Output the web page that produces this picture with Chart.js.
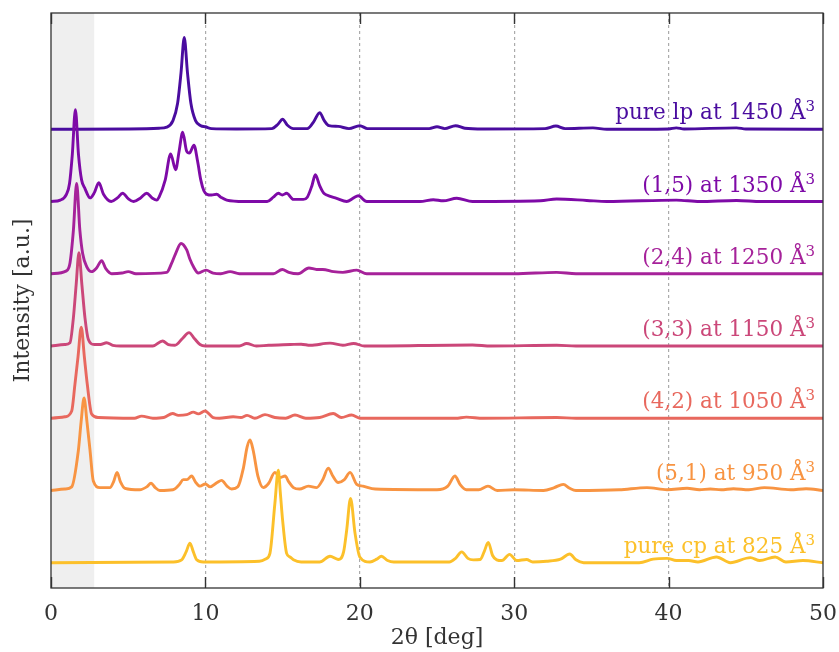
<!DOCTYPE html>
<html>
<head>
<meta charset="utf-8">
<title>XRD patterns</title>
<script src="https://cdn.jsdelivr.net/npm/chart.js@4.4.1/dist/chart.umd.min.js"></script>
<style>
  html, body { margin: 0; padding: 0; background: #fff; }
</style>
</head>
<body>
<canvas id="xrdChart" width="839" height="652"></canvas>
<script>
// --- data: [2theta (deg), intensity above own baseline] ---
const pureLp = [
    [0, 0], [5, 0.005], [7, 0.015], [7.5, 0.03], [7.9, 0.12], [8.2, 0.36], [8.42, 0.78], [8.63, 1.27],
    [8.84, 0.78], [9.06, 0.36], [9.36, 0.12], [9.7, 0.05], [10.0, 0.035], [10.4, 0.01], [12, 0.005],
    [14.3, 0.01], [14.7, 0.07], [15.0, 0.14], [15.3, 0.06], [15.7, 0.01], [16.6, 0.01], [17.0, 0.1],
    [17.4, 0.23], [17.7, 0.12], [18.0, 0.05], [18.6, 0.04], [19.3, 0.01], [20.0, 0.05], [20.5, 0.01],
    [24.5, 0.01], [25.0, 0.035], [25.5, 0.01], [26.2, 0.05], [26.8, 0.015], [28, 0.005], [32.0, 0.01],
    [32.7, 0.045], [33.3, 0.01], [35.1, 0.02], [36, 0], [40, 0.005], [40.5, 0.02], [41, 0.005],
    [44.4, 0.02], [45, 0.005], [50, 0]
];
const mix15 = [
    [0, 0], [0.6, 0.02], [1.0, 0.1], [1.2, 0.25], [1.38, 0.65], [1.58, 1.27], [1.78, 0.65], [1.98, 0.3],
    [2.2, 0.18], [2.53, 0.05], [2.8, 0.12], [3.1, 0.26], [3.4, 0.1], [3.9, 0], [4.3, 0.05], [4.64, 0.115],
    [5.0, 0.04], [5.35, 0], [5.8, 0.05], [6.2, 0.115], [6.55, 0.05], [6.85, 0.02], [7.0, 0.06], [7.4, 0.3],
    [7.75, 0.66], [8.07, 0.44], [8.3, 0.7], [8.53, 0.96], [8.78, 0.7], [8.96, 0.67], [9.26, 0.78],
    [9.5, 0.55], [9.7, 0.3], [9.9, 0.15], [10.1, 0.1], [10.4, 0.09], [10.73, 0.1], [11.0, 0.06],
    [11.38, 0.02], [12.5, 0], [14.0, 0], [14.4, 0.06], [14.72, 0.115], [14.98, 0.09], [15.26, 0.115],
    [15.7, 0.03], [16.34, 0.03], [16.6, 0.06], [16.9, 0.22], [17.12, 0.37], [17.4, 0.22], [17.65, 0.12],
    [17.86, 0.09], [18.5, 0.045], [19.15, 0], [19.6, 0.05], [19.9, 0.08], [20.45, 0], [23.9, 0],
    [24.76, 0.025], [25.4, 0.01], [26.28, 0.045], [27.3, 0], [31.7, 0.01], [32.75, 0.035], [34.7, 0.015],
    [36, 0], [40.5, 0.02], [42, 0], [44.4, 0.015], [46, 0], [50, 0]
];
const mix24 = [
    [0, 0], [1.0, 0.04], [1.23, 0.15], [1.45, 0.6], [1.66, 1.25], [1.87, 0.6], [2.05, 0.28], [2.31, 0.1],
    [2.63, 0.03], [2.95, 0.08], [3.28, 0.18], [3.55, 0.07], [3.93, 0], [4.6, 0.01], [5.0, 0.03], [5.5, 0],
    [7.5, 0.02], [7.8, 0.14], [8.05, 0.27], [8.42, 0.42], [8.79, 0.33], [9.0, 0.2], [9.22, 0.1],
    [9.54, 0.01], [10.04, 0.05], [10.5, 0.01], [11.0, 0], [11.6, 0.03], [12.2, 0], [14.4, 0],
    [14.98, 0.06], [15.4, 0.02], [16.0, 0], [16.7, 0.08], [17.2, 0.06], [17.6, 0.06], [18.3, 0.03],
    [18.9, 0.02], [19.8, 0.05], [20.45, 0], [30, 0], [32.75, 0.02], [34, 0], [50, 0]
];
const mix33 = [
    [0, 0], [0.9, 0.02], [1.23, 0.045], [1.45, 0.39], [1.63, 0.85], [1.81, 1.29], [2.0, 0.85], [2.2, 0.39],
    [2.42, 0.09], [2.8, 0.02], [3.2, 0.02], [3.6, 0.045], [4.0, 0.01], [4.5, 0], [6.6, 0], [7.23, 0.07],
    [7.6, 0.02], [8.03, 0.01], [8.5, 0.1], [8.94, 0.185], [9.3, 0.1], [9.65, 0.02], [10.0, 0], [12.2, 0],
    [12.67, 0.035], [13.3, 0], [14.1, 0.01], [15.5, 0.02], [16.2, 0.025], [16.8, 0.01], [18.07, 0.04],
    [18.9, 0.01], [19.6, 0.035], [20.3, 0], [27.3, 0.015], [28.5, 0], [32.75, 0.01], [34, 0], [50, 0]
];
const mix42 = [
    [0, 0], [0.9, 0.02], [1.34, 0.1], [1.55, 0.47], [1.75, 0.85], [1.96, 1.26], [2.16, 0.85], [2.35, 0.47],
    [2.63, 0.06], [3.07, 0.01], [5.4, 0], [5.87, 0.03], [6.6, 0], [7.3, 0.01], [7.88, 0.065], [8.25, 0.04],
    [8.79, 0.05], [9.22, 0.085], [9.54, 0.06], [9.97, 0.1], [10.5, 0.01], [10.9, 0], [11.8, 0.02],
    [12.3, 0.01], [12.7, 0.04], [13.2, 0], [13.86, 0.05], [14.5, 0.01], [15.2, 0], [15.8, 0.045],
    [16.5, 0], [17.4, 0.01], [18.28, 0.065], [18.8, 0.01], [19.47, 0.045], [20.0, 0], [26.2, 0],
    [26.9, 0.015], [28, 0], [32.75, 0.01], [34, 0], [50, 0]
];
const mix51 = [
    [0, 0], [0.9, 0.02], [1.34, 0.05], [1.77, 0.55], [1.95, 0.95], [2.14, 1.28], [2.33, 0.95], [2.53, 0.55],
    [2.74, 0.13], [3.17, 0.04], [3.82, 0.04], [4.05, 0.12], [4.28, 0.25], [4.5, 0.12], [4.79, 0.03],
    [5.75, 0.01], [6.2, 0.05], [6.48, 0.1], [6.75, 0.04], [7.05, 0], [7.9, 0.01], [8.3, 0.08], [8.57, 0.15],
    [8.8, 0.15], [9.11, 0.2], [9.35, 0.12], [9.65, 0.06], [10.0, 0.09], [10.3, 0.05], [10.76, 0.11],
    [11.05, 0.14], [11.4, 0.06], [11.7, 0.02], [12.1, 0.05], [12.45, 0.3], [12.7, 0.6], [12.89, 0.7],
    [13.1, 0.55], [13.4, 0.2], [13.75, 0.04], [14.1, 0.1], [14.5, 0.25], [14.83, 0.18], [15.16, 0.2],
    [15.4, 0.12], [15.7, 0.04], [16.1, 0.02], [16.67, 0.06], [17.2, 0.04], [17.6, 0.15], [17.96, 0.31],
    [18.25, 0.2], [18.6, 0.11], [19.0, 0.15], [19.37, 0.25], [19.8, 0.085], [20.2, 0.06], [21.0, 0.02],
    [25.0, 0.01], [25.7, 0.06], [26.16, 0.2], [26.5, 0.08], [26.9, 0.01], [27.7, 0.01], [28.3, 0.06],
    [28.9, 0], [30.0, 0.01], [31.9, 0], [32.6, 0.04], [33.18, 0.085], [33.6, 0.03], [34.0, 0],
    [36.8, 0.01], [38.6, 0.04], [39.9, 0.01], [41.2, 0.03], [42.0, 0.01], [42.7, 0.02], [43.4, 0.01],
    [44.2, 0.025], [45.2, 0.01], [46.2, 0.04], [47.9, 0.01], [48.9, 0.025], [50, 0]
];
const pureCp = [
    [0, 0], [7.92, 0.01], [8.46, 0.04], [8.75, 0.15], [9.0, 0.27], [9.22, 0.15], [9.44, 0.04], [9.86, 0.01],
    [13.5, 0.02], [13.9, 0.05], [14.18, 0.13], [14.5, 0.82], [14.72, 1.28], [14.86, 0.95], [15.0, 0.59],
    [15.26, 0.13], [15.48, 0.08], [15.7, 0.04], [16.2, 0.01], [17.4, 0.01], [18.07, 0.09], [18.6, 0.045],
    [18.95, 0.15], [19.15, 0.45], [19.4, 0.89], [19.69, 0.41], [20.0, 0.08], [20.66, 0.01], [21.1, 0.05],
    [21.4, 0.09], [21.8, 0.03], [22.2, 0.01], [25.8, 0.01], [26.2, 0.06], [26.6, 0.15], [27.0, 0.06],
    [27.35, 0.04], [27.8, 0.045], [28.05, 0.15], [28.32, 0.28], [28.6, 0.1], [28.87, 0.04], [29.2, 0.03],
    [29.7, 0.115], [30.16, 0.03], [30.8, 0.045], [31.2, 0.01], [32.1, 0.02], [33.0, 0.05], [33.6, 0.12],
    [34.0, 0.04], [34.5, 0], [38.1, 0], [39.0, 0.05], [39.9, 0.06], [40.5, 0.03], [41.3, 0.03],
    [41.9, 0.01], [43.1, 0.08], [44.0, 0], [45.3, 0.07], [45.9, 0.03], [46.9, 0.08], [47.6, 0.01],
    [48.7, 0.03], [50, 0]
];

const seriesLabels = [
    'pure lp at 1450 Å³', '(1,5) at 1350 Å³', '(2,4) at 1250 Å³', '(3,3) at 1150 Å³',
    '(4,2) at 1050 Å³', '(5,1) at 950 Å³', 'pure cp at 825 Å³'
];
const seriesData = [pureLp, mix15, mix24, mix33, mix42, mix51, pureCp];
const stackOffsets = [6, 5, 4, 3, 2, 1, 0];
const xTicks = [0, 10, 20, 30, 40, 50];
const shadedRange = [0, 2.8];

const lineColors = ['#4a0c9f', '#7e0aa7', '#a6229a', '#cb4779', '#e8685e', '#f89442', '#fcc02a'];
const FONT = "'DejaVu Serif', 'Liberation Serif', serif";
const INK = '#333333';

/**
 * Decorations: shaded low-angle band, frame with inward ticks, series labels
 */
const xrdDecor = {
    id: 'xrdDecor',
    beforeDatasetsDraw(chart) {
        const { ctx, chartArea: a, scales: { x } } = chart;
        ctx.save();
        ctx.fillStyle = '#efefef';
        const x0 = x.getPixelForValue(shadedRange[0]);
        const x1 = x.getPixelForValue(shadedRange[1]);
        ctx.fillRect(x0, a.top, x1 - x0, a.bottom - a.top);
        ctx.restore();
    },
    afterDatasetsDraw(chart) {
        const { ctx, chartArea: a, scales: { y } } = chart;
        ctx.save();
        ctx.textAlign = 'right';
        ctx.textBaseline = 'alphabetic';
        seriesLabels.forEach((label, i) => {
            const base = label.replace('³', '');
            const yb = y.getPixelForValue(stackOffsets[i]) - 10;
            const right = a.right - 8;
            ctx.fillStyle = lineColors[i];
            ctx.font = '15px ' + FONT;
            const supW = ctx.measureText('3').width;
            ctx.fillText('3', right, yb - 8);
            ctx.font = '21.5px ' + FONT;
            ctx.fillText(base, right - supW, yb);
        });
        ctx.restore();
    },
    afterDraw(chart) {
        const { ctx, chartArea: a, scales: { x } } = chart;
        ctx.save();
        ctx.strokeStyle = INK;
        ctx.lineWidth = 1.3;
        ctx.strokeRect(a.left, a.top, a.right - a.left, a.bottom - a.top);
        ctx.lineWidth = 1.4;
        xTicks.forEach(v => {
            const px = Math.round(x.getPixelForValue(v)) + 0.5;
            ctx.beginPath();
            ctx.moveTo(px, a.bottom);
            ctx.lineTo(px, a.bottom - 11);
            ctx.moveTo(px, a.top);
            ctx.lineTo(px, a.top + 11);
            ctx.stroke();
        });
        ctx.restore();
    }
};

const datasets = seriesData.map((points, i) => ({
    label: seriesLabels[i],
    data: points.map(([t, v]) => ({ x: t, y: v + stackOffsets[i] })),
    borderColor: lineColors[i],
    borderWidth: 2.9,
    pointRadius: 0,
    fill: false,
    cubicInterpolationMode: 'monotone',
    order: stackOffsets[i]
}));

new Chart(document.getElementById('xrdChart'), {
    type: 'line',
    data: { datasets },
    options: {
        responsive: false,
        animation: false,
        layout: { padding: { top: 13, right: 16, left: 0, bottom: 0 } },
        plugins: { legend: { display: false }, tooltip: { enabled: false } },
        scales: {
            x: {
                type: 'linear',
                min: 0,
                max: 50,
                afterBuildTicks: scale => { scale.ticks = xTicks.map(v => ({ value: v })); },
                afterFit: scale => { scale.height = 64; scale.paddingLeft = 0; scale.paddingRight = 0; },
                ticks: { font: { family: FONT, size: 22 }, color: INK, padding: 13, maxRotation: 0 },
                grid: {
                    drawTicks: false,
                    lineWidth: 1.2,
                    color: c => (c.tick && c.tick.value > 0 && c.tick.value < 50) ? '#ababab' : 'rgba(0,0,0,0)'
                },
                border: { display: false, dash: [3, 3] },
                title: {
                    display: true,
                    text: '2θ [deg]',
                    font: { family: FONT, size: 22 },
                    color: INK,
                    padding: { top: 0, bottom: 1 }
                }
            },
            y: {
                min: -0.35,
                max: 7.61,
                afterFit: scale => { scale.width = 51; scale.paddingTop = 0; scale.paddingBottom = 0; },
                ticks: { display: false },
                grid: { display: false, drawTicks: false },
                border: { display: false },
                title: {
                    display: true,
                    text: 'Intensity [a.u.]',
                    font: { family: FONT, size: 22 },
                    color: INK,
                    padding: { top: 10, bottom: 0 }
                }
            }
        }
    },
    plugins: [xrdDecor]
});
</script>
</body>
</html>
